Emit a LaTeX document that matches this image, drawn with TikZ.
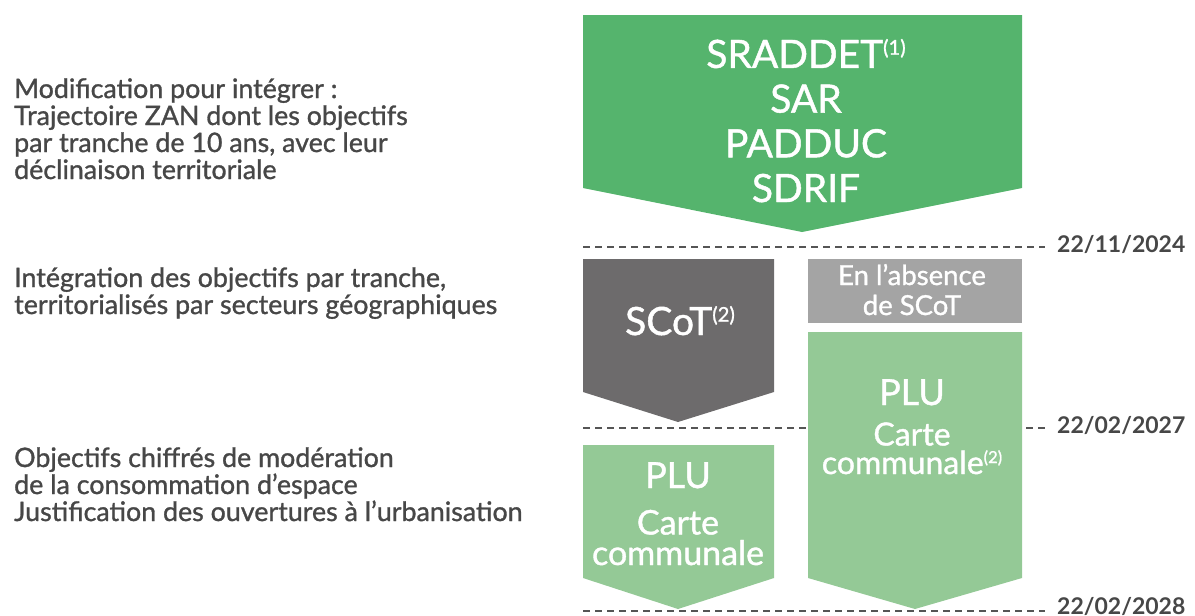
\documentclass[tikz,border=0pt]{standalone}
\usepackage{fontspec}
\setmainfont{Lato}[UprightFeatures={FakeBold=1.1}]
\definecolor{bigGreen}{HTML}{55B46D}
\definecolor{lightGreen}{HTML}{94C996}
\definecolor{darkGrey}{HTML}{6D6B6C}
\definecolor{midGrey}{HTML}{A4A4A4}
\definecolor{txtGrey}{HTML}{474747}
\definecolor{dashGrey}{HTML}{555555}
\newcommand{\supx}[1]{\raisebox{0.34em}{\fontsize{0.52em}{0.52em}\selectfont #1}}
\tikzset{
  sidetext/.style={anchor=base west, align=left, text=txtGrey, inner sep=0pt, font=\fontsize{26.8}{27}\selectfont},
  datetext/.style={anchor=base west, text=txtGrey, inner sep=0pt, font=\fontsize{23}{26}\selectfont\bfseries},
  dashline/.style={draw=dashGrey, line width=1.6pt, dash pattern=on 7pt off 5pt},
  boxtext/.style={text=white, align=center, inner sep=0pt, anchor=base},
}
\begin{document}
\begin{tikzpicture}[x=1pt,y=-1pt]
\useasboundingbox (0,0) rectangle (1195,616);
% shapes
\fill[bigGreen] (583,15) -- (1022,15) -- (1022,188) -- (802,232) -- (583,188) -- cycle;
\fill[darkGrey] (583,259) -- (774,259) -- (774,392) -- (678,422) -- (583,392) -- cycle;
\fill[midGrey] (808,259) rectangle (1022,323);
\fill[lightGreen] (808,332) -- (1022,332) -- (1022,578) -- (915,609) -- (808,578) -- cycle;
\fill[lightGreen] (583,445) -- (774,445) -- (774,578) -- (678,609) -- (583,578) -- cycle;
% dashed lines
\coordinate (d1a) at (583,247); \coordinate (d1b) at (1045,247);
\coordinate (d2a) at (583,428); \coordinate (d2b) at (806,428);
\coordinate (d2c) at (1026,428); \coordinate (d2d) at (1045,428);
\coordinate (d3a) at (583,611); \coordinate (d3b) at (1045,611);
\draw[dashline] (d1a) -- (d1b);
\draw[dashline] (d2a) -- (d2b);
\draw[dashline] (d2c) -- (d2d);
\draw[dashline] (d3a) -- (d3b);
% dates
\node[datetext] (date1) at (1057,252) {22/11/2024};
\node[datetext] (date2) at (1057,433) {22/02/2027};
\node[datetext] (date3) at (1057,614) {22/02/2028};
% box texts
\node[boxtext, font=\fontsize{39}{44.7}\selectfont] (srad) at (806,202) {SRADDET\supx{(1)}\\SAR\\PADDUC\\SDRIF};
\node[boxtext, font=\fontsize{39}{45}\selectfont] (scot) at (680,335) {SCoT\supx{(2)}};
\node[boxtext, font=\fontsize{27.5}{30}\selectfont] (abs) at (912,315) {En l’absence\\de SCoT};
\node[boxtext, font=\fontsize{36}{40}\selectfont] (plu1) at (912,405) {PLU};
\node[boxtext, font=\fontsize{32}{28.5}\selectfont] (cc1) at (912,474) {Carte\\communale\supx{(2)}};
\node[boxtext, font=\fontsize{36}{40}\selectfont] (plu2) at (678,488) {PLU};
\node[boxtext, font=\fontsize{34}{30.5}\selectfont] (cc2) at (678,565) {Carte\\communale};
% side texts
\node[sidetext] (t1) at (14,179) {Modification pour intégrer :\\Trajectoire ZAN dont les objectifs\\par tranche de 10 ans, avec leur\\déclinaison territoriale};
\node[sidetext] (t2) at (14,314) {Intégration des objectifs par tranche,\\territorialisés par secteurs géographiques};
\node[sidetext] (t3) at (14,521) {Objectifs chiffrés de modération\\de la consommation d’espace\\Justification des ouvertures à l’urbanisation};
\end{tikzpicture}
\end{document}
